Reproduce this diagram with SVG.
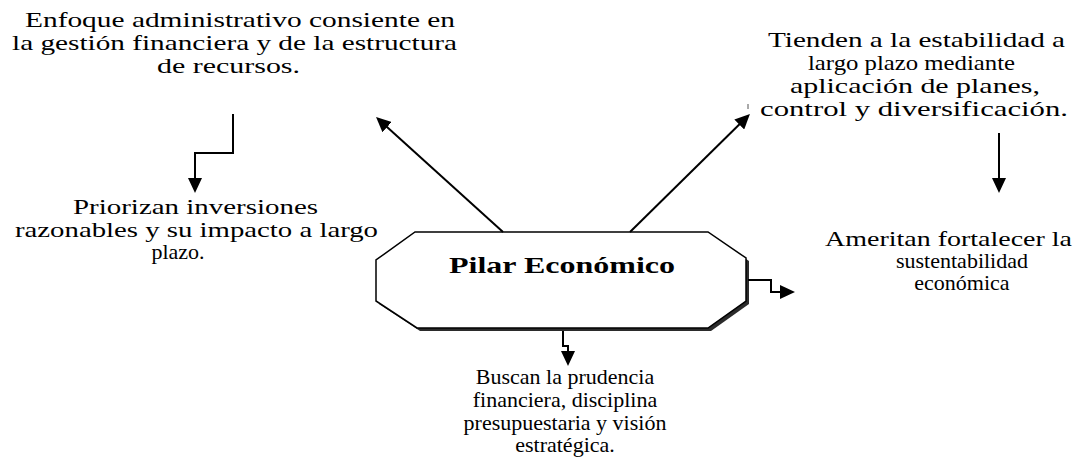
<svg xmlns="http://www.w3.org/2000/svg" width="1086" height="462" viewBox="0 0 1086 462">
<style>
.t{font-family:"Liberation Serif","Times New Roman",serif;font-size:22px;fill:#000}
.m{text-anchor:middle}
.b{font-family:"Liberation Serif","Times New Roman",serif;font-size:24px;font-weight:bold;fill:#000}
.c{fill:none;stroke:#000;stroke-width:2}
</style>
<defs>
<marker id="ah" viewBox="0 0 15 14" markerWidth="15" markerHeight="14" refX="11" refY="7" orient="auto" markerUnits="userSpaceOnUse">
<path d="M0,0 L15,7 L0,14 z" fill="#000"/>
</marker>
</defs>
<rect width="1086" height="462" fill="#fff"/>
<g id="pilar">
<polygon points="418,235 711,235 749,261 749,304 711,331 420,331 379,304 379,263" fill="#2b2b2b"/>
<polygon points="415,232 708,232 746,258 746,301 708,328 417,328 376,301 376,260" fill="#fff" stroke="#000" stroke-width="1.5"/>
<text class="b" x="449" y="273" textLength="226" lengthAdjust="spacingAndGlyphs">Pilar Económico</text>
</g>
<g id="enfoque">
<text class="t" x="25" y="27" textLength="430" lengthAdjust="spacingAndGlyphs">Enfoque administrativo consiente en</text>
<text class="t" x="12" y="50" textLength="445" lengthAdjust="spacingAndGlyphs">la gestión financiera y de la estructura</text>
<text class="t" x="157" y="73" textLength="143" lengthAdjust="spacingAndGlyphs">de recursos.</text>
</g>
<g id="tienden">
<text class="t" x="768" y="47" textLength="297" lengthAdjust="spacingAndGlyphs">Tienden a la estabilidad a</text>
<text class="t" x="808" y="70" textLength="207" lengthAdjust="spacingAndGlyphs">largo plazo mediante</text>
<text class="t" x="790" y="93" textLength="250" lengthAdjust="spacingAndGlyphs">aplicación de planes,</text>
<text class="t" x="760" y="116" textLength="308" lengthAdjust="spacingAndGlyphs">control y diversificación.</text>
</g>
<g id="priorizan">
<text class="t" x="73" y="214" textLength="245" lengthAdjust="spacingAndGlyphs">Priorizan inversiones</text>
<text class="t" x="15" y="237" textLength="363" lengthAdjust="spacingAndGlyphs">razonables y su impacto a largo</text>
<text class="t m" x="178" y="259">plazo.</text>
</g>
<g id="ameritan">
<text class="t" x="825" y="246" textLength="247" lengthAdjust="spacingAndGlyphs">Ameritan fortalecer la</text>
<text class="t m" x="962" y="268">sustentabilidad</text>
<text class="t m" x="962" y="290">económica</text>
</g>
<g id="buscan">
<text class="t m" x="565" y="384">Buscan la prudencia</text>
<text class="t m" x="565" y="407">financiera, disciplina</text>
<text class="t m" x="565" y="430">presupuestaria y visión</text>
<text class="t m" x="565" y="452">estratégica.</text>
</g>
<g id="connectors">
<polyline class="c" points="233,114 233,153 195,153 195,189" marker-end="url(#ah)"/>
<line class="c" x1="503" y1="232" x2="379" y2="119.7" marker-end="url(#ah)"/>
<line class="c" x1="630" y1="232" x2="747.1" y2="116.8" marker-end="url(#ah)"/>
<line x1="748" y1="104" x2="748" y2="109" stroke="#555" stroke-width="1"/>
<line class="c" x1="999" y1="133" x2="999" y2="189" marker-end="url(#ah)"/>
<polyline class="c" points="748,280 771,280 771,292 791,292" marker-end="url(#ah)"/>
<polyline class="c" points="563,331 563,346 568,346 568,362" marker-end="url(#ah)"/>
</g>
</svg>
